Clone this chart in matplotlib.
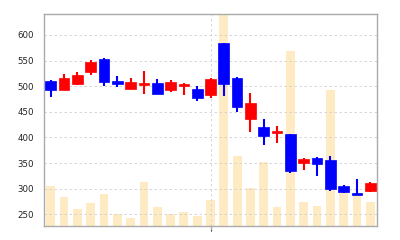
import numpy as np
import matplotlib
matplotlib.use('Agg')
import matplotlib.pyplot as plt

# candle data
opens  = [511, 493, 504, 527, 554, 511, 495, 502, 507, 492, 502, 494, 482,
          584, 516, 435, 420, 409, 407, 350, 360, 355, 306, 292, 295]
closes = [493, 516, 522, 548, 509, 505, 508, 506, 485, 509, 503, 477, 515,
          505, 459, 467, 403, 412, 334, 357, 348, 299, 293, 288, 311]
highs  = [512, 524, 528, 552, 556, 519, 516, 530, 514, 512, 507, 501, 516,
          585, 517, 487, 435, 422, 407, 359, 361, 363, 307, 319, 312]
lows   = [479, 492, 503, 521, 500, 498, 494, 484, 484, 488, 483, 472, 477,
          480, 450, 410, 386, 390, 330, 336, 325, 295, 291, 287, 294]
volume = [40, 29, 17, 23, 32, 12, 8, 44, 19, 12, 14, 10, 26,
          260, 70, 38, 64, 19, 175, 24, 20, 136, 34, 31, 24]

yticks = [250, 300, 350, 400, 450, 500, 550, 600]

x = np.arange(len(opens))
o = np.array(opens)
c = np.array(closes)
up = c >= o
colors = np.where(up, '#ff0000', '#0000ff')

fig = plt.figure(figsize=(4, 2.4), dpi=100)
ax2 = fig.add_axes([44 / 400, 14 / 240, 333 / 400, 212 / 240])
ax = fig.add_axes([44 / 400, 14 / 240, 333 / 400, 212 / 240], sharex=ax2)

# volume behind
ax2.bar(x, volume, width=0.66, color='#feebc4', zorder=1)
ax2.set_ylim(0, 212)
ax2.set_yticks([])
for s in ax2.spines.values():
    s.set_visible(False)

ax.set_zorder(ax2.get_zorder() + 1)
ax.patch.set_visible(False)

# wicks then bodies
ax.vlines(x, lows, highs, colors=colors, linewidth=1.5, zorder=3)
body_h = np.maximum(np.abs(c - o), 2.5)
body_b = np.minimum(o, c) - np.where(np.abs(c - o) < 2.5, 1.0, 0)
ax.bar(x, body_h, bottom=body_b, width=0.8, color=colors, edgecolor=colors,
       linewidth=0.5, zorder=4)

ax.set_xlim(-0.5, 24.5)
ax.set_ylim(227, 641)
ax.set_yticks(yticks)
ax.set_yticklabels([str(v) for v in yticks], fontsize=6.2, color='#222222')
ax.tick_params(axis='y', length=0, pad=7)
ax.set_xticks([12])
ax.set_xticklabels([''])
ax.tick_params(axis='x', length=3, color='#aaaaaa')

ax.grid(True, color='#d0d0d0', linestyle=(0, (3, 3)), linewidth=0.6, zorder=0)
ax.set_axisbelow(True)

for s in ax.spines.values():
    s.set_color('#aaaaaa')
    s.set_linewidth(1.0)

fig.savefig('out.png', dpi=100)
